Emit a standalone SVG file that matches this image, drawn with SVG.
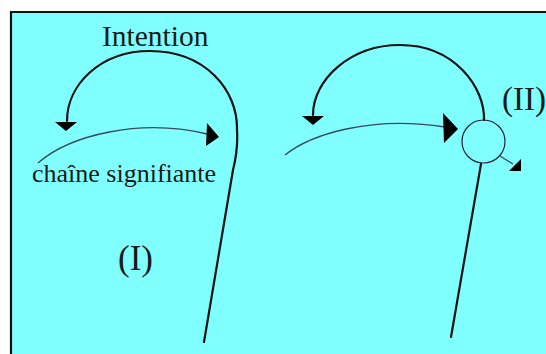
<svg xmlns="http://www.w3.org/2000/svg" width="546" height="354" viewBox="0 0 546 354">
<style>
.lbl{font-family:"Liberation Serif","Times New Roman",serif;fill:#1a1a1a}
.thick{fill:none;stroke:#111;stroke-width:2.2;stroke-linecap:round}
.thin{fill:none;stroke:#3a4a5a;stroke-width:1.3}
.head{fill:#000;stroke:none}
</style>
<rect x="0" y="0" width="546" height="354" fill="#ffffff"/>
<rect x="11" y="12" width="536" height="343" fill="#80ffff"/>
<path d="M11,355 L11,12 L546,12" fill="none" stroke="#111" stroke-width="2.2"/>
<g id="label-intention"><text class="lbl" x="102" y="46" font-size="29.5">Intention</text></g>
<g id="label-chaine"><text class="lbl" x="32" y="182" font-size="26">chaîne signifiante</text></g>
<g id="label-I"><text class="lbl" x="118" y="270" font-size="35">(I)</text></g>
<g id="label-II"><text class="lbl" x="502" y="110" font-size="33">(II)</text></g>
<g id="node-circle"><circle cx="483.5" cy="141.5" r="21.5" fill="none" stroke="#223" stroke-width="1.2"/></g>
<g id="connectors">
<path class="thick" d="M204,342 L233,170 C236,158 238,145 237,130 C238,90 205,51 150,51 C100,51 67,85 67,121"/>
<polygon class="head" points="55,122 77,122 66,131"/>
<path class="thin" d="M38,163 C70,135 140,118 207,134"/>
<polygon class="head" points="207,123 219,137 206,146"/>
<path class="thick" d="M451,337 L481,164"/>
<path class="thick" d="M484,120 C485,88 455,45 400,45 C350,45 313,80 313,115"/>
<polygon class="head" points="302,116 324,116 313,125"/>
<path class="thin" d="M285,155 C310,135 370,115 445,127"/>
<polygon class="head" points="443,113 458,129 444,143"/>
<path class="thin" d="M500,156 L513,164"/>
<polygon class="head" points="521,159 521,171 509,171"/>
</g>
</svg>
